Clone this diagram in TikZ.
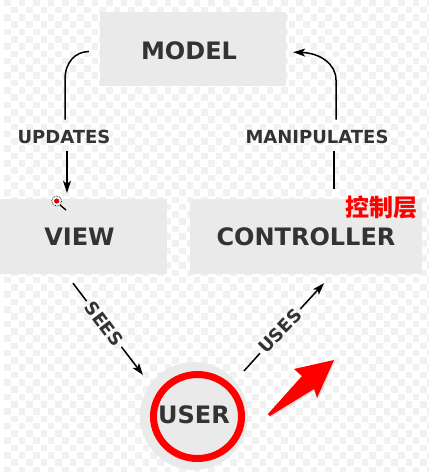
\documentclass[tikz,border=0pt]{standalone}
\usepackage{fontspec}
\setmainfont{DejaVu Sans}
\newfontfamily\cjk{Noto Sans CJK SC}
\usetikzlibrary{arrows.meta}
\usetikzlibrary{shadows}
\definecolor{boxgray}{HTML}{EAEAEA}
\definecolor{textgray}{HTML}{333333}
\definecolor{checkgray}{HTML}{F1F1F1}
\tikzset{
  tier/.style={fill=boxgray,text=textgray,font=\bfseries\fontsize{24}{28}\selectfont},
  verb/.style={text=textgray,font=\bfseries\fontsize{18}{20}\selectfont},
  link/.style={-{Stealth[length=12pt,width=8pt,inset=3pt]},line width=1.5pt,black},
  plain/.style={line width=1.5pt,black},
}
\begin{document}
\begin{tikzpicture}[x=1pt,y=-1pt]
  \useasboundingbox (0,0) rectangle (429,472);
  % checker background
  \fill[white] (0,0) rectangle (429,472);
  \foreach \i in {0,...,59}
    \foreach \j in {0,...,65} {
      \pgfmathparse{int(mod(\i+\j,2))}
      \ifnum\pgfmathresult=0
        \fill[checkgray] (4+\i*7.3,-0.6+\j*7.3) rectangle ++(6.6,6.6);
      \fi
    }

  \node[tier,minimum width=186pt,minimum height=74pt] (model) at (193,49) {\rule{0pt}{22pt}\kern-8pt MODEL};
  \node[tier,minimum width=167pt,minimum height=75pt] (view) at (83.5,236.5) {\kern-8pt VIEW};
  \node[tier,minimum width=232pt,minimum height=75pt] (ctrl) at (306,236.5) {CONTROLLER};
  \fill[boxgray] (194,416) circle (54);
  \node[text=textgray,font=\bfseries\fontsize{24}{28}\selectfont] (user) at (194,415) {USER};
  \node[verb] (updates) at (64,137) {UPDATES};
  \node[verb] (manip) at (317,137) {MANIPULATES};
  \node[verb,rotate=-53] (sees) at (104,324) {SEES};
  \node[verb,rotate=46] (uses) at (280,331) {USES};

  \draw[plain,shorten <=11pt,shorten >=7pt] ([yshift=-2pt]model.west)
    .. controls (75,52) and (65,62) .. (65,80) -- ([xshift=1pt]updates.north);
  \draw[link,shorten <=4pt,shorten >=6pt] ([xshift=3pt]updates.south) -- ([xshift=-16.5pt]view.north);
  \draw[plain,shorten <=10pt,shorten >=4pt] ([xshift=28pt]ctrl.north) -- ([xshift=17pt]manip.south);
  \draw[link,shorten <=7pt,shorten >=7pt] ([xshift=19pt]manip.north) -- (336,80)
    .. controls (336,64) and (320,53) .. ([yshift=-3pt]model.east);
  \draw[plain] ([shift={(-10.5pt,-9pt)}]view.south) -- (sees);
  \draw[link] (sees) -- ([shift={(-51pt,40pt)}]user.center);
  \draw[plain] ([shift={(50pt,44pt)}]user.center) -- (uses);
  \draw[link] (uses) -- ([shift={(18pt,-9pt)}]ctrl.south);

  % annotations
  \draw[red,line width=7pt] (197.5,416.5) ellipse (44 and 42);
  \fill[red,drop shadow={shadow xshift=1pt,shadow yshift=-1.5pt,opacity=.25}]
    (268,414) -- (302,376) -- (294,369) -- (334,360) -- (317,398) -- (314,389) -- (270,416) -- cycle;
  \node[text=red,font=\cjk\bfseries\fontsize{24}{26}\selectfont,inner sep=0pt] (tag) at (381,207) {控制层};

  % cursor
  \draw[black,line width=1.4pt] (60,205) -- (66,210);
  \draw[black,fill=white,line width=.7pt,densely dotted] (56.7,201) circle (5);
  \fill[red!85!black] (56.7,201) circle (2.6);
\end{tikzpicture}
\end{document}
